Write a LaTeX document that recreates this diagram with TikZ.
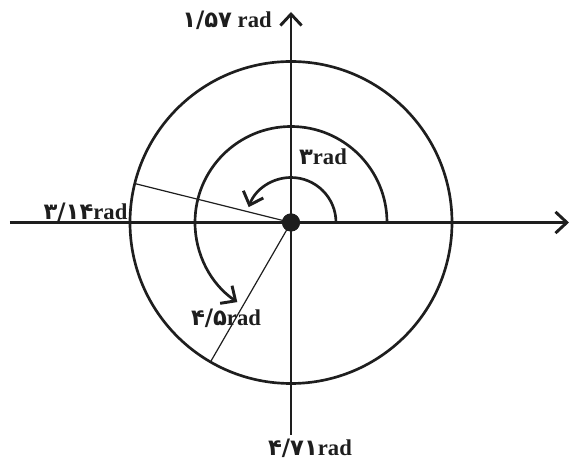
\documentclass[tikz,border=0pt]{standalone}
\usepackage{fontspec}
\setmainfont{Liberation Serif}
\newfontfamily\fadigits{DejaVu Sans}
\usetikzlibrary{arrows.meta}
\definecolor{ink}{RGB}{30,30,30}
\tikzset{
  >={Straight Barb[length=3mm,width=5.6mm,line width=2.2pt]},
  axis/.style={->,line width=1.9pt,draw=ink},
  ring/.style={line width=2pt,draw=ink},
  turn/.style={->,line width=2pt,draw=ink},
  ray/.style={line width=0.9pt,draw=ink},
  hub/.style={circle,fill=ink,inner sep=0pt,minimum size=13.5pt},
  lbl/.style={font=\fontsize{17}{20}\selectfont\bfseries,text=ink,inner sep=0pt},
}
\newcommand{\fa}[1]{{\fadigits #1}}

\begin{document}
\begin{tikzpicture}[x=0.75pt,y=0.75pt]
  \useasboundingbox (-291,-236.5) rectangle (280,222.5);
  % axes
  \coordinate (west) at (-281,0);
  \coordinate (east) at (278,0);
  \coordinate (south) at (0,-212.5);
  \coordinate (north) at (0,210.5);
  \draw[axis] (west) -- (east);
  \draw[axis] (south) -- (north);
  % circle and rays
  \node[hub] (o) at (0,0) {};
  \draw[ring] (o) circle[radius=161];
  \coordinate (p1) at (166:161);
  \coordinate (p2) at (240:161);
  \draw[ray] (o.center) -- (p1);
  \draw[ray] (o.center) -- (p2);
  % rotations
  \coordinate (s0) at (45,0);
  \coordinate (m0) at (96,0);
  \draw[turn] (s0) arc[start angle=0,end angle=160,radius=45];
  \draw[turn] (m0) arc[start angle=0,end angle=236,radius=96];
  \node[hub] at (0,0) {};
  % labels
  \node[lbl] (top) at (-64,202.5) {\fa{۱/۵۷} rad};
  \node[lbl] (three) at (32,65.5) {\fa{۳}rad};
  \node[lbl] (pi) at (-205.5,10.5) {\fa{۳/۱۴}rad};
  \node[lbl] (four) at (-65,-95.5) {\fa{۴/۵}rad};
  \node[lbl] (bottom) at (19,-225.5) {\fa{۴/۷۱}rad};
\end{tikzpicture}
\end{document}
